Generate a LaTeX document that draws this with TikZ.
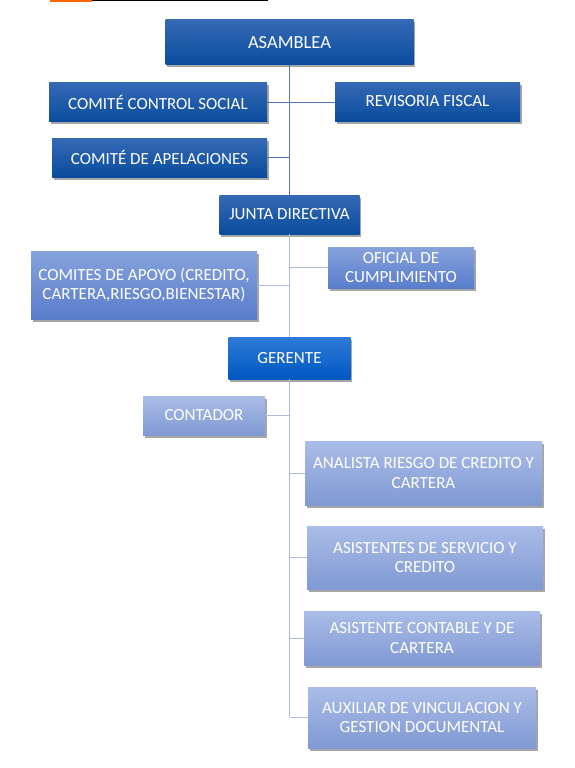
\documentclass[tikz,border=0pt]{standalone}
\usepackage{fontspec}
\setmainfont{Carlito}
\usetikzlibrary{shadows}
\definecolor{dkA}{HTML}{3569B5}
\definecolor{dkB}{HTML}{0A4C9E}
\definecolor{brA}{HTML}{2E7AD6}
\definecolor{brB}{HTML}{0058C2}
\definecolor{mdA}{HTML}{86A2DC}
\definecolor{mdB}{HTML}{5A7DCB}
\definecolor{ltA}{HTML}{AABDE8}
\definecolor{ltB}{HTML}{8099D3}
\definecolor{lnDark}{HTML}{5577B0}
\definecolor{lnLight}{HTML}{AEBCDD}
\tikzset{
  box/.style={inner sep=2pt, align=center, text=white, font=\fontsize{17}{19.5}\selectfont,
    drop shadow={shadow xshift=1.5pt, shadow yshift=-2.5pt, opacity=0.35, fill=black}},
  dark/.style={box, top color=dkA, bottom color=dkB},
  bright/.style={box, top color=brA, bottom color=brB},
  medium/.style={box, top color=mdA, bottom color=mdB},
  light/.style={box, top color=ltA, bottom color=ltB},
  conD/.style={draw=lnDark, line width=1pt},
  conL/.style={draw=lnLight, line width=1pt},
}
\begin{document}
\begin{tikzpicture}[x=1pt,y=-1pt]
\useasboundingbox (0,0) rectangle (575,768);
\fill[white] (0,0) rectangle (575,768);
% top lines
\fill[orange!80!red] (50,0) rectangle (92,2.5);
\fill[black] (92,0) rectangle (268,1.2);

\coordinate (bot) at (289.5,717);

\node[dark, minimum width=248pt, minimum height=45pt, font=\fontsize{18.5}{21}\selectfont] (asam) at (289.5,42.5) {ASAMBLEA};
\node[dark, minimum width=218pt, minimum height=39pt] (ccs) at (158,102) {COMITÉ CONTROL SOCIAL};
\node[dark, minimum width=185pt, minimum height=39pt] (rf) at (427.5,101.5) {REVISORIA FISCAL};
\node[dark, minimum width=215pt, minimum height=39pt] (apel) at (159.5,157.5) {COMITÉ DE APELACIONES};
\node[dark, minimum width=140pt, minimum height=39pt] (junta) at (289.5,214.5) {JUNTA DIRECTIVA};
\node[medium, minimum width=226pt, minimum height=68pt] (apoyo) at (144,285) {COMITES DE APOYO (CREDITO,\\CARTERA,RIESGO,BIENESTAR)};
\node[medium, minimum width=146pt, minimum height=41pt] (ofi) at (401,267.5) {OFICIAL DE\\CUMPLIMIENTO};
\node[bright, minimum width=122pt, minimum height=42pt] (ger) at (289.5,358) {GERENTE};
\node[light, minimum width=122pt, minimum height=39pt] (cont) at (204,415.5) {CONTADOR};
\node[light, minimum width=237pt, minimum height=64pt] (anal) at (423.5,473) {ANALISTA RIESGO DE CREDITO Y\\CARTERA};
\node[light, minimum width=236pt, minimum height=63pt] (asis) at (425,557.5) {ASISTENTES DE SERVICIO Y\\CREDITO};
\node[light, minimum width=236pt, minimum height=54pt] (acon) at (422,638) {ASISTENTE CONTABLE Y DE\\CARTERA};
\node[light, minimum width=228pt, minimum height=61pt] (aux) at (422,717.5) {AUXILIAR DE VINCULACION Y\\GESTION DOCUMENTAL};

\draw[conD] (asam.south) -- (junta.north);
\draw[conD] (ccs.east) -- (ccs.east -| rf.west);
\draw[conD] (apel.east) -- (apel.east -| asam.south);
\draw[conL] (junta.south) -- (ger.north);
\draw[conL] (apoyo.east) -- (apoyo.east -| junta.south);
\draw[conL] (ofi.west) -- (ofi.west -| junta.south);
\draw[conL] (ger.south) -- (bot);
\draw[conL] (cont.east) -- (cont.east -| ger.south);
\draw[conL] (anal.west) -- (anal.west -| ger.south);
\draw[conL] (asis.west) -- (asis.west -| ger.south);
\draw[conL] (acon.west) -- (acon.west -| ger.south);
\draw[conL] (aux.west |- bot) -- (bot);
\end{tikzpicture}
\end{document}
